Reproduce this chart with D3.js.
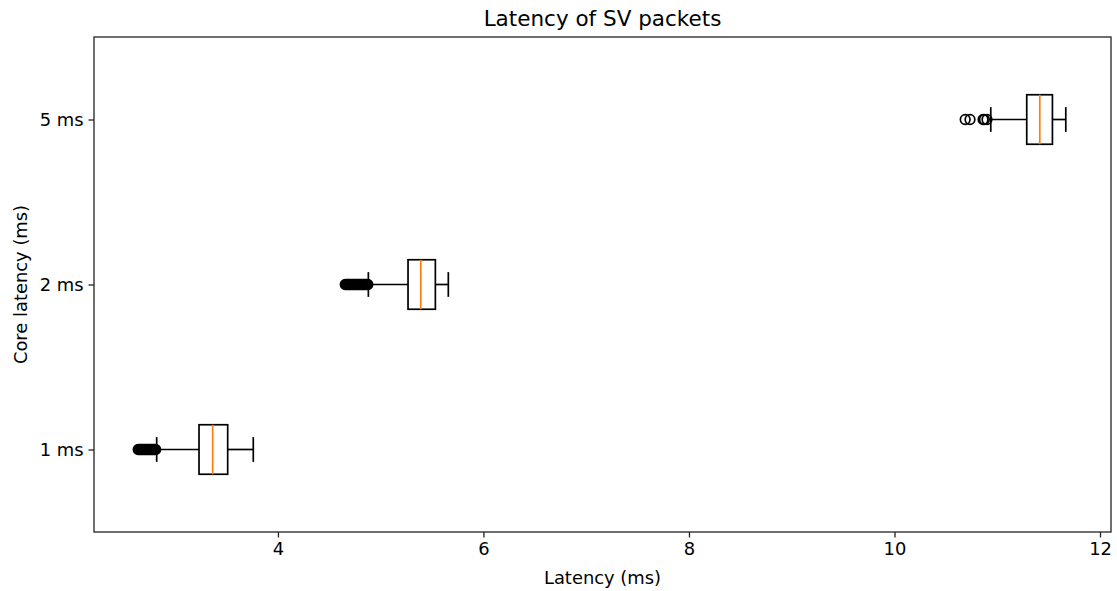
<!DOCTYPE html>
<html>
<head>
<meta charset="utf-8">
<script src="https://cdn.jsdelivr.net/npm/d3@7"></script>
<style>
  body { margin: 0; background: #fff; }
  text { font-family: "DejaVu Sans", sans-serif; fill: #000; }
</style>
</head>
<body>
<div id="chart"></div>
<script>
// box statistics
const categories = ["1 ms", "2 ms", "5 ms"];
const whiskerLow = [2.82, 4.88, 10.937];
const q1 = [3.232, 5.266, 11.287];
const median = [3.365, 5.39, 11.414];
const q3 = [3.511, 5.532, 11.537];
const whiskerHigh = [3.76, 5.658, 11.667];
const outliers = [
  [2.64, 2.65, 2.66, 2.67, 2.68, 2.69, 2.70, 2.71, 2.72, 2.73, 2.74, 2.75, 2.76, 2.77,
   2.78, 2.79, 2.80, 2.81],
  [4.655, 4.665, 4.675, 4.685, 4.695, 4.705, 4.715, 4.725, 4.735, 4.745, 4.755, 4.765,
   4.775, 4.785, 4.795, 4.805, 4.815, 4.825, 4.835, 4.845, 4.855, 4.865, 4.875],
  [10.688, 10.735, 10.862, 10.875, 10.9]
];
const xTicks = [4, 6, 8, 10, 12];

const W = 1117, H = 591;
const m = { left: 94, right: 6, top: 37, bottom: 59 };
const iw = W - m.left - m.right, ih = H - m.top - m.bottom;

const svg = d3.select("#chart").append("svg")
  .attr("width", W).attr("height", H);

const x = d3.scaleLinear().domain([2.21, 12.107]).range([0, iw]);
const y = d3.scaleLinear().domain([0.5, 3.5]).range([ih, 0]);
const boxW = y(0) - y(0.3);
const capW = boxW / 2;

const g = svg.append("g").attr("transform", `translate(${m.left},${m.top})`);

const rows = categories.map((c, i) => ({
  c, pos: i + 1, lo: whiskerLow[i], q1: q1[i], med: median[i], q3: q3[i], hi: whiskerHigh[i], out: outliers[i]
}));

const box = g.selectAll(".box").data(rows).enter().append("g").attr("class", "box");
const lw = 1.7;

// fliers (drawn first, under the whisker)
box.selectAll("circle").data(d => d.out.map(v => ({ v, pos: d.pos }))).enter().append("circle")
  .attr("cx", d => x(d.v)).attr("cy", d => y(d.pos)).attr("r", 4.8)
  .attr("fill", "none").attr("stroke", "#000").attr("stroke-width", 1.7);
// whiskers
box.append("line").attr("x1", d => x(d.lo)).attr("x2", d => x(d.q1))
  .attr("y1", d => y(d.pos)).attr("y2", d => y(d.pos)).attr("stroke", "#000").attr("stroke-width", lw);
box.append("line").attr("x1", d => x(d.q3)).attr("x2", d => x(d.hi))
  .attr("y1", d => y(d.pos)).attr("y2", d => y(d.pos)).attr("stroke", "#000").attr("stroke-width", lw);
// caps
box.append("line").attr("x1", d => x(d.lo)).attr("x2", d => x(d.lo))
  .attr("y1", d => y(d.pos) - capW / 2).attr("y2", d => y(d.pos) + capW / 2).attr("stroke", "#000").attr("stroke-width", lw);
box.append("line").attr("x1", d => x(d.hi)).attr("x2", d => x(d.hi))
  .attr("y1", d => y(d.pos) - capW / 2).attr("y2", d => y(d.pos) + capW / 2).attr("stroke", "#000").attr("stroke-width", lw);
// box
box.append("rect").attr("x", d => x(d.q1)).attr("width", d => x(d.q3) - x(d.q1))
  .attr("y", d => y(d.pos) - boxW / 2).attr("height", boxW)
  .attr("fill", "none").attr("stroke", "#000").attr("stroke-width", lw);
// median
box.append("line").attr("x1", d => x(d.med)).attr("x2", d => x(d.med))
  .attr("y1", d => y(d.pos) - boxW / 2).attr("y2", d => y(d.pos) + boxW / 2)
  .attr("stroke", "#ff7f0e").attr("stroke-width", lw);

// axes
const xAxis = g.append("g").attr("transform", `translate(0,${ih})`)
  .call(d3.axisBottom(x).tickValues(xTicks).tickSize(5.5).tickPadding(5).tickFormat(d3.format("d")));
const yAxis = g.append("g")
  .call(d3.axisLeft(y).tickValues([1, 2, 3]).tickSize(5.5).tickPadding(5).tickFormat((d, i) => categories[i]));
[xAxis, yAxis].forEach(a => {
  a.select(".domain").remove();
  a.selectAll("line").attr("stroke", "#222").attr("stroke-width", 1.3);
  a.selectAll("text").style("font-size", "17.9px").style("font-family", "DejaVu Sans");
});

g.append("rect").attr("width", iw).attr("height", ih)
  .attr("fill", "none").attr("stroke", "#222").attr("stroke-width", 1.3);

svg.append("text").attr("x", m.left + iw / 2).attr("y", 26).attr("text-anchor", "middle")
  .style("font-size", "21.5px").text("Latency of SV packets");
svg.append("text").attr("x", m.left + iw / 2).attr("y", 584).attr("text-anchor", "middle")
  .style("font-size", "17.9px").text("Latency (ms)");
svg.append("text").attr("transform", `translate(26.5,${m.top + ih / 2}) rotate(-90)`).attr("text-anchor", "middle")
  .style("font-size", "17.9px").text("Core latency (ms)");
</script>
</body>
</html>
